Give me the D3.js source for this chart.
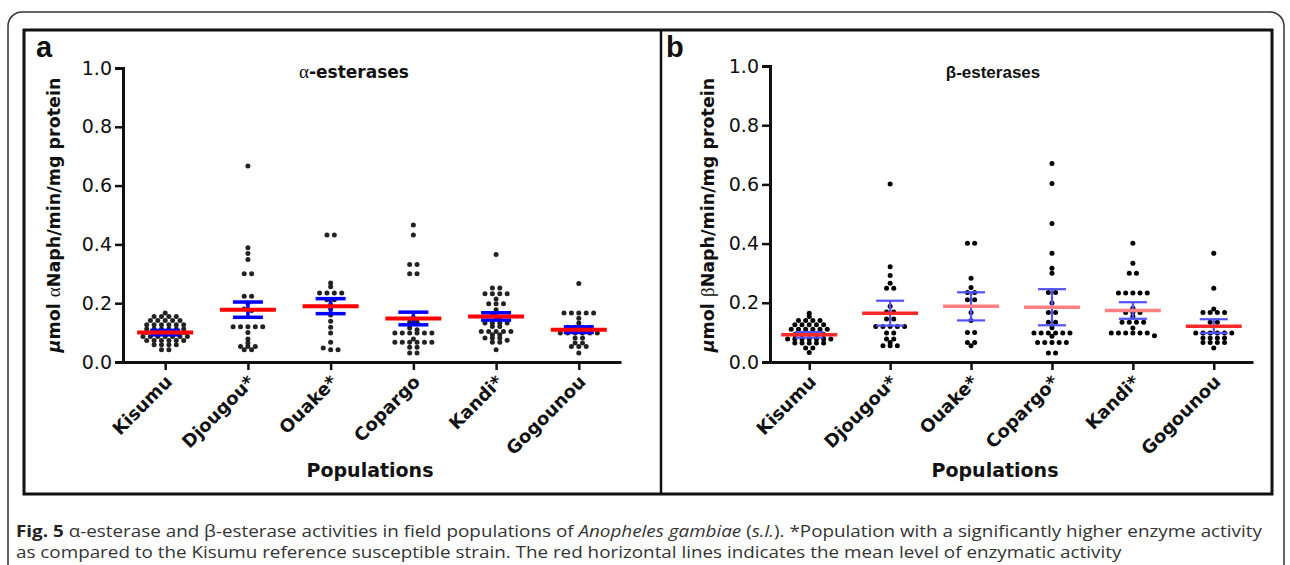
<!DOCTYPE html>
<html>
<head>
<meta charset="utf-8">
<script src="https://cdn.jsdelivr.net/npm/d3@7"></script>
<style>
  body { margin: 0; background: #fff; }
  svg { display: block; }
</style>
</head>
<body>
<div id="plot"></div>
<script>
// categories
var categoriesA = ["Kisumu", "Djougou*", "Ouake*", "Copargo", "Kandi*", "Gogounou"];
var categoriesB = ["Kisumu", "Djougou*", "Ouake*", "Copargo*", "Kandi*", "Gogounou"];
var yTicks = [0, 0.2, 0.4, 0.6, 0.8, 1.0];

// alpha-esterase activity, one value per mosquito
var alphaKisumu = [0.167, 0.155, 0.155, 0.155, 0.155, 0.141, 0.141, 0.141, 0.141, 0.141,
  0.127, 0.127, 0.127, 0.127, 0.127, 0.127, 0.112, 0.112, 0.112, 0.112, 0.112, 0.112,
  0.100, 0.100, 0.100, 0.100, 0.100, 0.100, 0.087, 0.087, 0.087, 0.087, 0.087, 0.087, 0.087,
  0.073, 0.073, 0.073, 0.073, 0.073, 0.073, 0.059, 0.059, 0.059, 0.059, 0.042, 0.042];
var alphaDjougou = [0.667, 0.389, 0.369, 0.349, 0.300, 0.300, 0.224, 0.224, 0.200, 0.180, 0.175,
  0.120, 0.120, 0.120, 0.120, 0.120, 0.100, 0.078, 0.065, 0.053, 0.053, 0.053, 0.042, 0.042];
var alphaOuake = [0.432, 0.432, 0.269, 0.256, 0.235, 0.235, 0.235, 0.235, 0.212, 0.212, 0.195,
  0.180, 0.160, 0.139, 0.118, 0.099, 0.067, 0.048, 0.042, 0.042];
var alphaCopargo = [0.466, 0.432, 0.332, 0.332, 0.300, 0.300, 0.150, 0.135, 0.135, 0.116, 0.110,
  0.099, 0.099, 0.099, 0.099, 0.099, 0.099, 0.078, 0.067, 0.067, 0.067, 0.067, 0.067, 0.067,
  0.050, 0.050, 0.031, 0.031];
var alphaKandi = [0.366, 0.252, 0.252, 0.232, 0.232, 0.232, 0.232, 0.214, 0.198, 0.198, 0.198,
  0.178, 0.160, 0.150, 0.133, 0.133, 0.133, 0.133, 0.121, 0.121, 0.104, 0.104, 0.104, 0.104, 0.104,
  0.093, 0.093, 0.082, 0.082, 0.082, 0.074, 0.067, 0.067, 0.042];
var alphaGogounou = [0.267, 0.167, 0.167, 0.167, 0.167, 0.167, 0.149, 0.133, 0.118, 0.118, 0.118, 0.118,
  0.099, 0.099, 0.099, 0.099, 0.099, 0.099, 0.082, 0.082, 0.065, 0.065, 0.053, 0.053, 0.053, 0.031];
var alphaMeans = [0.100, 0.178, 0.190, 0.148, 0.155, 0.110];
var alphaSem = [0.0075, 0.026, 0.0255, 0.0215, 0.0125, 0.0095];

// beta-esterase activity
var betaKisumu = [0.165, 0.154, 0.140, 0.140, 0.140, 0.140, 0.126, 0.126, 0.126, 0.126, 0.126,
  0.111, 0.111, 0.111, 0.111, 0.111, 0.111, 0.093, 0.093, 0.093, 0.093, 0.093,
  0.078, 0.078, 0.078, 0.078, 0.078, 0.078, 0.078, 0.064, 0.064, 0.064, 0.064, 0.064,
  0.047, 0.047, 0.032];
var betaDjougou = [0.601, 0.322, 0.292, 0.266, 0.249, 0.249, 0.188, 0.169, 0.169, 0.145, 0.145,
  0.120, 0.120, 0.120, 0.120, 0.120, 0.098, 0.098, 0.078, 0.078, 0.066, 0.055, 0.055, 0.055];
var betaOuake = [0.401, 0.401, 0.283, 0.252, 0.235, 0.235, 0.210, 0.210, 0.167, 0.140,
  0.100, 0.100, 0.066, 0.066, 0.055];
var betaCopargo = [0.671, 0.603, 0.468, 0.367, 0.317, 0.300, 0.235, 0.235, 0.199, 0.167, 0.167,
  0.134, 0.134, 0.116, 0.098, 0.098, 0.098, 0.098, 0.098, 0.098, 0.087,
  0.066, 0.066, 0.066, 0.066, 0.066, 0.030, 0.030];
var betaKandi = [0.401, 0.334, 0.300, 0.300, 0.233, 0.233, 0.233, 0.233, 0.233, 0.182,
  0.167, 0.167, 0.167, 0.154, 0.134, 0.134, 0.134, 0.134, 0.115,
  0.098, 0.098, 0.098, 0.098, 0.098, 0.098, 0.089];
var betaGogounou = [0.367, 0.249, 0.179, 0.167, 0.167, 0.167, 0.167, 0.134, 0.134,
  0.098, 0.098, 0.098, 0.098, 0.098, 0.098, 0.081, 0.081, 0.081, 0.081,
  0.066, 0.066, 0.066, 0.066, 0.047];
var betaMeans = [0.092, 0.165, 0.188, 0.185, 0.174, 0.121];
var betaSem = [0.0095, 0.042, 0.0475, 0.061, 0.028, 0.0235];

var comic = "'DejaVu Sans', sans-serif";

var svg = d3.select("div#plot").append("svg")
    .attr("width", 1290)
    .attr("height", 565);

// outer rounded frame (runs off the bottom)
svg.append("rect")
    .attr("x", 8).attr("y", 12).attr("width", 1276).attr("height", 640)
    .attr("rx", 14)
    .attr("fill", "none").attr("stroke", "#333").attr("stroke-width", 1.5);

// panel boxes
svg.append("rect")
    .attr("x", 24).attr("y", 30).attr("width", 1248).attr("height", 464)
    .attr("fill", "none").attr("stroke", "#111").attr("stroke-width", 3);
svg.append("line")
    .attr("x1", 661).attr("x2", 661).attr("y1", 30).attr("y2", 494)
    .attr("stroke", "#111").attr("stroke-width", 2.5);

// spread equal-ish values sideways like a GraphPad dot plot
function swarm(values, cx, y, spacing) {
  var sorted = values.slice().sort(function(a, b) { return b - a; });
  var rows = [];
  sorted.forEach(function(v) {
    var last = rows[rows.length - 1];
    if (last && Math.abs(y(last[0]) - y(v)) < 3) last.push(v);
    else rows.push([v]);
  });
  var pts = [];
  rows.forEach(function(r) {
    r.forEach(function(v, i) {
      pts.push({x: cx + (i - (r.length - 1) / 2) * spacing, y: y(v)});
    });
  });
  return pts;
}

function drawPanel(cfg) {
  var x = d3.scalePoint().domain(cfg.cats).range(cfg.xRange).padding(cfg.pad);
  var y = d3.scaleLinear().domain([0, 1]).range(cfg.yRange);
  var g = svg.append("g");

  // y axis
  var gy = g.append("g")
      .attr("transform", "translate(" + cfg.xRange[0] + ",0)")
      .call(d3.axisLeft(y).tickValues(yTicks).tickFormat(d3.format(".1f")).tickSize(8).tickPadding(3));
  gy.select(".domain").attr("stroke", "#111").attr("stroke-width", 3);
  gy.selectAll(".tick line").attr("stroke", "#111").attr("stroke-width", 2.5);
  gy.selectAll(".tick text").attr("fill", "#111")
      .style("font-family", comic).style("font-size", "19px");

  // x axis
  var gx = g.append("g")
      .attr("transform", "translate(0," + y(0) + ")")
      .call(d3.axisBottom(x).tickSize(8).tickSizeOuter(0).tickFormat(""));
  gx.select(".domain").attr("stroke", "#111").attr("stroke-width", 3);
  gx.selectAll(".tick line").attr("stroke", "#111").attr("stroke-width", 2.5);

  g.selectAll(".catlabel")
      .data(cfg.cats)
      .enter().append("text")
      .attr("class", "catlabel")
      .attr("transform", function(d) { return "translate(" + (x(d) + 8) + "," + (y(0) + 21) + ") rotate(-45)"; })
      .attr("text-anchor", "end")
      .style("font-family", comic).style("font-weight", "bold").style("font-size", "18px")
      .attr("fill", "#111")
      .text(function(d) { return d; });

  // dots
  cfg.groups.forEach(function(vals, i) {
    var pts = swarm(vals, x(cfg.cats[i]), y, cfg.spacing);
    g.selectAll(null)
        .data(pts)
        .enter().append("circle")
        .attr("cx", function(d) { return d.x; })
        .attr("cy", function(d) { return d.y; })
        .attr("r", cfg.r)
        .attr("fill", cfg.dotColor);
  });

  // SEM bars
  cfg.cats.forEach(function(c, i) {
    var cx = x(c), m = cfg.means[i], s = cfg.sems[i];
    g.append("line")
        .attr("x1", cx).attr("x2", cx).attr("y1", y(m - s)).attr("y2", y(m + s))
        .attr("stroke", cfg.semColor).attr("stroke-width", cfg.semWidth);
    [m - s, m + s].forEach(function(v) {
      g.append("line")
          .attr("x1", cx - cfg.capHalf).attr("x2", cx + cfg.capHalf)
          .attr("y1", y(v)).attr("y2", y(v))
          .attr("stroke", cfg.semColor).attr("stroke-width", cfg.semWidth);
    });
  });

  // mean lines
  g.selectAll(".mean")
      .data(cfg.means)
      .enter().append("line")
      .attr("class", "mean")
      .attr("x1", function(d, i) { return x(cfg.cats[i]) - 28; })
      .attr("x2", function(d, i) { return x(cfg.cats[i]) + 28; })
      .attr("y1", function(d) { return y(d); })
      .attr("y2", function(d) { return y(d); })
      .attr("stroke", function(d, i) { return cfg.meanColors[i]; })
      .attr("stroke-width", cfg.meanWidth);

  // y label
  var yl = g.append("text")
      .attr("transform", "translate(" + cfg.labelX + ",215) rotate(-90)")
      .attr("text-anchor", "middle")
      .style("font-family", comic).style("font-size", "17.5px")
      .attr("fill", "#111");
  yl.append("tspan").style("font-style", "italic").style("font-weight", "bold").text("\u00b5");
  yl.append("tspan").style("font-weight", "bold").text("mol ");
  yl.append("tspan").style("font-family", "'Liberation Serif', serif").style("font-size", "19px").text(cfg.greek);
  yl.append("tspan").style("font-weight", "bold").text("Naph/min/mg protein");

  // x label
  g.append("text")
      .attr("x", cfg.popX).attr("y", 477)
      .attr("text-anchor", "middle")
      .style("font-family", comic).style("font-weight", "bold").style("font-size", "19px")
      .attr("fill", "#111")
      .text("Populations");

  // panel letter
  g.append("text")
      .attr("x", cfg.letterX).attr("y", 57)
      .style("font-family", "'Liberation Sans', Arial, sans-serif").style("font-weight", "bold").style("font-size", "29px")
      .attr("fill", "#111")
      .text(cfg.letter);
}

drawPanel({
  cats: categoriesA,
  groups: [alphaKisumu, alphaDjougou, alphaOuake, alphaCopargo, alphaKandi, alphaGogounou],
  means: alphaMeans, sems: alphaSem,
  xRange: [123, 621], pad: 0.51, yRange: [362, 68],
  spacing: 7.4, r: 2.5, dotColor: "#222",
  semColor: "#0000ff", semWidth: 3.5, capHalf: 15,
  meanColors: ["#ff0000", "#ff0000", "#ff0000", "#ff0000", "#ff0000", "#ff0000"], meanWidth: 4,
  labelX: 60, greek: "\u03b1", popX: 370, letter: "a", letterX: 36
});

drawPanel({
  cats: categoriesB,
  groups: [betaKisumu, betaDjougou, betaOuake, betaCopargo, betaKandi, betaGogounou],
  means: betaMeans, sems: betaSem,
  xRange: [770, 1253], pad: 0.485, yRange: [362, 66],
  spacing: 7.2, r: 2.5, dotColor: "#000",
  semColor: "#5050ff", semWidth: 2.2, capHalf: 14,
  meanColors: ["#ff2a2a", "#ff2a2a", "#ff8080", "#ff8080", "#ff8080", "#ff2a2a"], meanWidth: 3.5,
  labelX: 714, greek: "\u03b2", popX: 995, letter: "b", letterX: 666
});

// titles
var ta = svg.append("text")
    .attr("x", 354).attr("y", 78).attr("text-anchor", "middle")
    .style("font-size", "17px").attr("fill", "#111");
ta.append("tspan").style("font-family", "'Liberation Serif', serif").style("font-size", "19px").text("\u03b1");
ta.append("tspan").style("font-family", comic).style("font-weight", "bold").text("-esterases");

svg.append("text")
    .attr("x", 993).attr("y", 78).attr("text-anchor", "middle")
    .style("font-family", "'Liberation Sans', Arial, sans-serif").style("font-weight", "bold").style("font-size", "17px")
    .attr("fill", "#111")
    .text("\u03b2-esterases");

// caption: condensed type, same squeeze on both lines
var capG = svg.append("g");
var cap1 = capG.append("text")
    .attr("x", 0).attr("y", 537)
    .style("font-family", "'Open Sans', sans-serif").style("font-size", "16px")
    .attr("fill", "#333");
cap1.append("tspan").style("font-weight", "bold").attr("fill", "#222").text("Fig. 5");
cap1.append("tspan").text(" \u03b1-esterase and \u03b2-esterase activities in field populations of ");
cap1.append("tspan").style("font-style", "italic").text("Anopheles gambiae");
cap1.append("tspan").text(" (");
cap1.append("tspan").style("font-style", "italic").text("s.l.");
cap1.append("tspan").text("). *Population with a significantly higher enzyme activity");
var squeeze = 1247 / cap1.node().getComputedTextLength();
capG.attr("transform", "translate(16,0) scale(" + squeeze + ",1)");

capG.append("text")
    .attr("x", 0).attr("y", 558)
    .style("font-family", "'Open Sans', sans-serif").style("font-size", "16px")
    .attr("fill", "#333")
    .text("as compared to the Kisumu reference susceptible strain. The red horizontal lines indicates the mean level of enzymatic activity");
</script>
</body>
</html>
